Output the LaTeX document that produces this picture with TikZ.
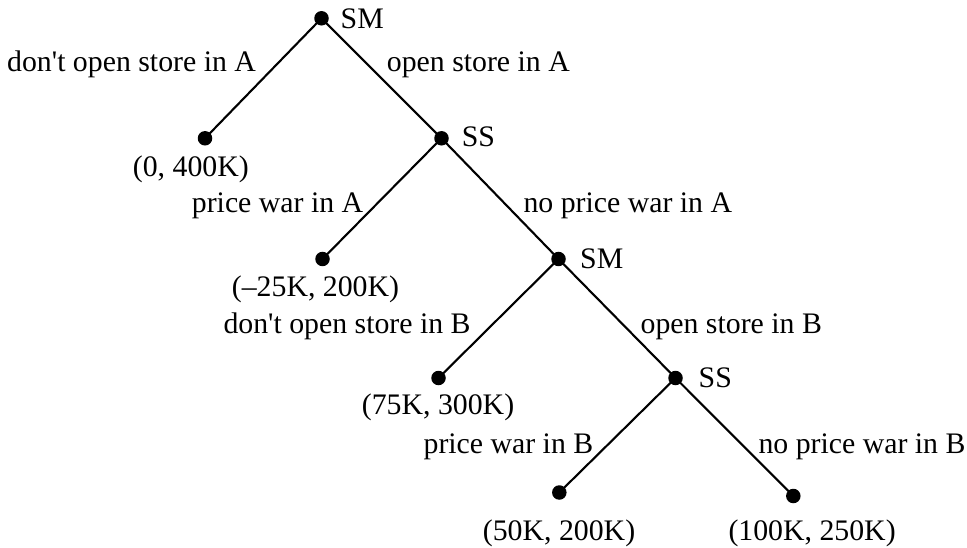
\documentclass[tikz,border=0pt]{standalone}
\usepackage{fontspec}
\setmainfont{Liberation Serif}[Ligatures=TeXOff]
\begin{document}
\begin{tikzpicture}[x=1pt,y=-1pt,
  dot/.style={circle,fill=black,inner sep=0pt,minimum size=14.5pt},
  edge/.style={line width=2.1pt},
  lab/.style={inner sep=0pt,anchor=base west,font=\fontsize{29.8}{35}\selectfont}]
\useasboundingbox (0,0) rectangle (967,548);
% decision and terminal points
\node[dot] (r)  at (321.5,18.3) {};
\node[dot] (l1) at (205,138.3) {};
\node[dot] (s1) at (441.5,138.3) {};
\node[dot] (l2) at (322.5,259) {};
\node[dot] (m2) at (558.5,259) {};
\node[dot] (l3) at (438.5,378) {};
\node[dot] (s2) at (675.5,378) {};
\node[dot] (l4) at (559.3,492.5) {};
\node[dot] (l5) at (793.3,496) {};
% edges
\draw[edge] (r.center) -- (l1.center);
\draw[edge] (r.center) -- (s1.center);
\draw[edge] (s1.center) -- (l2.center);
\draw[edge] (s1.center) -- (m2.center);
\draw[edge] (m2.center) -- (l3.center);
\draw[edge] (m2.center) -- (s2.center);
\draw[edge] (s2.center) -- (l4.center);
\draw[edge] (s2.center) -- (l5.center);
% labels
\node[lab] (tr)  at (340.5,29) {SM};
\node[lab] (ta)  at (7,71.5) {don't open store in A};
\node[lab] (tb)  at (386.7,71.5) {open store in A};
\node[lab] (tl1) at (132.7,177) {(0, 400K)};
\node[lab] (ts1) at (461.7,147) {SS};
\node[lab] (tc)  at (191.7,213) {price war in A};
\node[lab] (td)  at (523.3,213) {no price war in A};
\node[lab] (tl2) at (231.7,297) {(–25K, 200K)};
\node[lab] (tm2) at (580,269) {SM};
\node[lab] (te)  at (223.3,333) {don't open store in B};
\node[lab] (tf)  at (640.4,333) {open store in B};
\node[lab] (tl3) at (361.7,414) {(75K, 300K)};
\node[lab] (ts2) at (698.5,387) {SS};
\node[lab] (tg)  at (423.4,453) {price war in B};
\node[lab] (th)  at (758.3,453) {no price war in B};
\node[lab] (tl4) at (482.7,540) {(50K, 200K)};
\node[lab] (tl5) at (728.3,540) {(100K, 250K)};
\end{tikzpicture}
\end{document}
